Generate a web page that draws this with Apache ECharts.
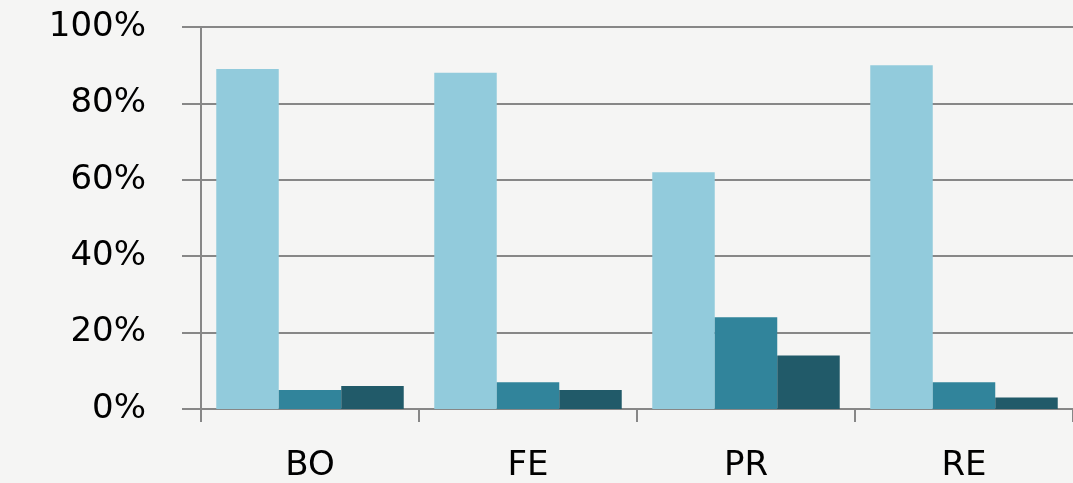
<!DOCTYPE html>
<html>
<head>
<meta charset="utf-8">
<script src="https://cdn.jsdelivr.net/npm/echarts@6/dist/echarts.min.js"></script>
<style>
  html, body { margin: 0; padding: 0; background: #f5f5f4; }
  #chart { width: 1073px; height: 483px; }
</style>
</head>
<body>
<div id="chart"></div>
<script>
// Categories and the three response shares (percent) per category
const categories = ['BO', 'FE', 'PR', 'RE'];
const seriesA = [89, 88, 62, 90];
const seriesB = [5, 7, 24, 7];
const seriesC = [6, 5, 14, 3];
const yTicks = [0, 20, 40, 60, 80, 100];

const colors = ['#92cbdc', '#31849b', '#215a69'];
const gridColor = '#878787';
const labelFont = 'DejaVu Sans';

const chart = echarts.init(document.getElementById('chart'), null, { renderer: 'canvas' });

const makeSeries = (data, color, gap) => ({
  type: 'bar',
  data: data,
  barGap: '0%',
  barCategoryGap: gap,
  itemStyle: { color: color },
  emphasis: { disabled: true }
});

chart.setOption({
  backgroundColor: '#f5f5f4',
  animation: false,
  grid: { left: 201, top: 27, width: 878, bottom: 73, containLabel: false },
  xAxis: {
    type: 'category',
    data: categories,
    axisLine: { show: true, lineStyle: { color: gridColor, width: 2 } },
    axisTick: { show: true, length: 13, alignWithLabel: false, lineStyle: { color: gridColor, width: 2 } },
    axisLabel: { color: '#000', fontFamily: labelFont, fontSize: 34, margin: 40 }
  },
  yAxis: {
    type: 'value',
    min: yTicks[0],
    max: yTicks[yTicks.length - 1],
    interval: yTicks[1] - yTicks[0],
    axisLine: { show: true, lineStyle: { color: gridColor, width: 2 } },
    axisTick: { show: true, length: 19, lineStyle: { color: gridColor, width: 2 } },
    splitLine: { show: true, lineStyle: { color: gridColor, width: 2 } },
    axisLabel: {
      color: '#000', fontFamily: labelFont, fontSize: 34, margin: 55,
      formatter: v => v + '%'
    }
  },
  series: [
    makeSeries(seriesA, colors[0], '14%'),
    makeSeries(seriesB, colors[1], '14%'),
    makeSeries(seriesC, colors[2], '14%')
  ]
});
</script>
</body>
</html>
